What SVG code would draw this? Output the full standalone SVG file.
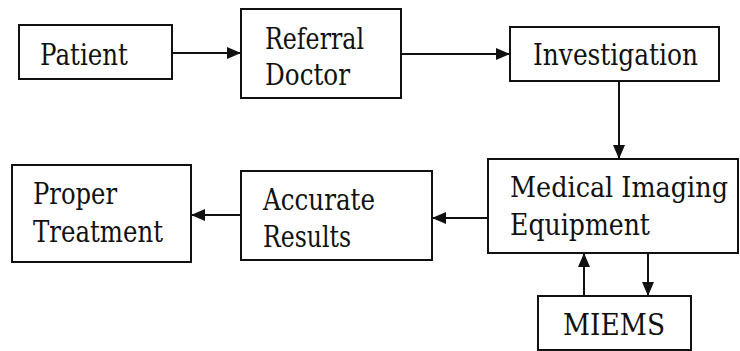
<svg xmlns="http://www.w3.org/2000/svg" width="740" height="351" viewBox="0 0 740 351">
<style>
.box{fill:#fff;stroke:#111;stroke-width:2}
.t{font-size:30px;fill:#111}
.c{stroke:#111;stroke-width:2;fill:none;marker-end:url(#ah)}
</style>
<defs>
<marker id="ah" viewBox="0 0 14 12" refX="14" refY="6" markerWidth="14" markerHeight="12" markerUnits="userSpaceOnUse" orient="auto">
<path d="M0,0 L14,6 L0,12 Z" fill="#111"/>
</marker>
</defs>
<rect width="740" height="351" fill="#fff"/>
<g id="connectors">
<line class="c" x1="172" y1="53" x2="241" y2="53"/>
<line class="c" x1="401" y1="54" x2="510" y2="54"/>
<line class="c" x1="619" y1="81" x2="619" y2="159"/>
<line class="c" x1="488" y1="218" x2="432" y2="218"/>
<line class="c" x1="241" y1="215" x2="191" y2="215"/>
<line class="c" x1="584" y1="296" x2="584" y2="253"/>
<line class="c" x1="648" y1="253" x2="648" y2="296"/>
</g>
<g font-family="DejaVu Serif, Liberation Serif, serif">
<g id="patient">
<rect class="box" x="19" y="25" width="153" height="54"/>
<text class="t" x="40" y="65" textLength="88" lengthAdjust="spacingAndGlyphs">Patient</text>
</g>
<g id="referral">
<rect class="box" x="241" y="9" width="160" height="89"/>
<text class="t" x="265" y="49" textLength="99" lengthAdjust="spacingAndGlyphs">Referral</text>
<text class="t" x="265" y="85" textLength="85" lengthAdjust="spacingAndGlyphs">Doctor</text>
</g>
<g id="investigation">
<rect class="box" x="510" y="27" width="209" height="54"/>
<text class="t" x="533" y="65" textLength="165" lengthAdjust="spacingAndGlyphs">Investigation</text>
</g>
<g id="mie">
<rect class="box" x="488" y="159" width="250" height="94"/>
<text class="t" x="510" y="197" style="font-size:27px" textLength="218" lengthAdjust="spacingAndGlyphs">Medical Imaging</text>
<text class="t" x="510" y="235" textLength="140" lengthAdjust="spacingAndGlyphs">Equipment</text>
</g>
<g id="miems">
<rect class="box" x="538" y="296" width="153" height="54"/>
<text class="t" x="563" y="335" textLength="102" lengthAdjust="spacingAndGlyphs">MIEMS</text>
</g>
<g id="accurate">
<rect class="box" x="241" y="171" width="191" height="89"/>
<text class="t" x="263" y="210" textLength="112" lengthAdjust="spacingAndGlyphs">Accurate</text>
<text class="t" x="263" y="247" textLength="88" lengthAdjust="spacingAndGlyphs">Results</text>
</g>
<g id="proper">
<rect class="box" x="12" y="165" width="179" height="97"/>
<text class="t" x="33" y="204" textLength="84" lengthAdjust="spacingAndGlyphs">Proper</text>
<text class="t" x="33" y="242" textLength="130" lengthAdjust="spacingAndGlyphs">Treatment</text>
</g>
</g>
</svg>
